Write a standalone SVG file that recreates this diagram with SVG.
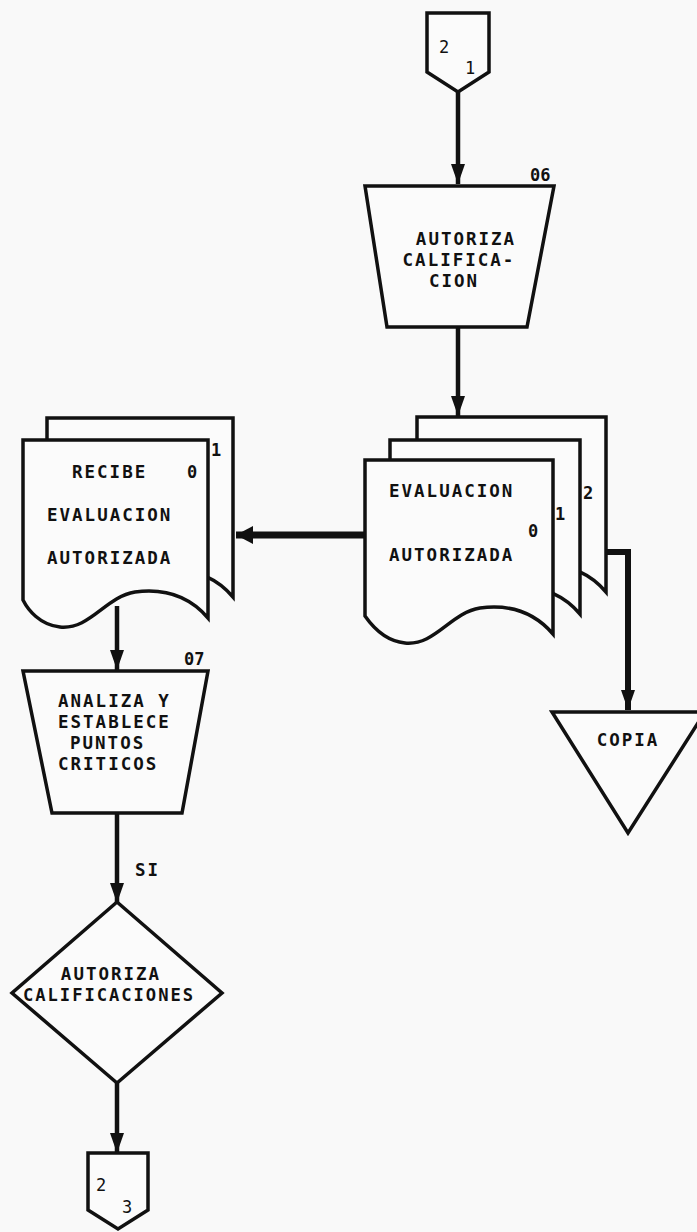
<svg xmlns="http://www.w3.org/2000/svg" width="697" height="1232" viewBox="0 0 697 1232">
<style>
.bg{fill:#f9f9f9}
.shape{fill:#fbfbfb;stroke:#111;stroke-width:3.5;stroke-linejoin:miter}
.conn{fill:none;stroke:#111;stroke-width:4.5}
.t{font-family:"DejaVu Sans Mono","Liberation Mono",monospace;font-weight:bold;font-size:17.5px;letter-spacing:2px;fill:#111}
.n{font-family:"DejaVu Sans Mono","Liberation Mono",monospace;font-weight:bold;font-size:17px;fill:#111}
.c{font-family:"DejaVu Sans Mono","Liberation Mono",monospace;font-size:17px;fill:#111}
.mid{text-anchor:middle}
</style>
<defs>
<marker id="ah" markerUnits="userSpaceOnUse" markerWidth="22" markerHeight="16" refX="20" refY="7" orient="auto">
<path d="M0,0 L20,7 L0,14 Z" fill="#111"/>
</marker>
<marker id="ahb" markerUnits="userSpaceOnUse" markerWidth="20" markerHeight="20" refX="17" refY="9" orient="auto">
<path d="M0,0 L17,9 L0,18 Z" fill="#111"/>
</marker>
</defs>
<rect class="bg" x="0" y="0" width="697" height="1232"/>

<g id="connectors">
<line class="conn" x1="458" y1="92" x2="458" y2="184" marker-end="url(#ah)"/>
<line class="conn" x1="458" y1="327" x2="458" y2="416" marker-end="url(#ah)"/>
<line class="conn" x1="365" y1="535" x2="236" y2="535" style="stroke-width:7" marker-end="url(#ahb)"/>
<polyline class="conn" points="604,552 628,552 628,710" style="stroke-width:6" marker-end="url(#ah)"/>
<line class="conn" x1="117" y1="606" x2="117" y2="670" marker-end="url(#ah)"/>
<line class="conn" x1="117" y1="813" x2="117" y2="903" marker-end="url(#ah)"/>
<text class="t" x="135" y="876">SI</text>
<line class="conn" x1="117" y1="1083" x2="117" y2="1153" marker-end="url(#ah)"/>
</g>

<g id="conn-top">
<path class="shape" d="M427,13 H489 V72 L458,92 L427,72 Z"/>
<text class="c" x="439" y="53">2</text>
<text class="c" x="465" y="74">1</text>
</g>

<g id="autoriza-calificacion">
<path class="shape" d="M365,186 H554 L527,327 H387 Z"/>
<text class="n" x="530" y="181">06</text>
<text class="t mid" x="466" y="245">AUTORIZA</text>
<text class="t mid" x="459" y="266">CALIFICA-</text>
<text class="t mid" x="454" y="287">CION</text>
</g>

<g id="evaluacion-autorizada">
<path class="shape" d="M417,417 H606 V592 C588,571 563,562 533,566 C503,571 488,604 458,601 C438,599 424,584 417,574 Z"/>
<path class="shape" d="M390,440 H580 V614 C562,593 537,584 507,588 C477,593 462,626 432,623 C412,621 398,606 390,596 Z"/>
<path class="shape" d="M365,460 H553 V634 C535,613 510,604 480,608 C450,613 435,646 405,643 C385,641 372,626 365,616 Z"/>
<text class="n" x="583" y="499">2</text>
<text class="n" x="555" y="520">1</text>
<text class="n" x="528" y="537">0</text>
<text class="t" x="389" y="497">EVALUACION</text>
<text class="t" x="389" y="561">AUTORIZADA</text>
</g>

<g id="recibe-evaluacion">
<path class="shape" d="M47,418 H233 V597 C215,576 190,567 160,571 C130,576 115,609 85,606 C65,604 53,589 47,579 Z"/>
<path class="shape" d="M23,440 H208 V618 C190,597 165,588 135,592 C105,597 90,630 60,627 C40,625 28,610 23,600 Z"/>
<text class="n" x="211" y="456">1</text>
<text class="n" x="187" y="478">0</text>
<text class="t" x="72" y="478">RECIBE</text>
<text class="t" x="47" y="521">EVALUACION</text>
<text class="t" x="47" y="564">AUTORIZADA</text>
</g>

<g id="analiza-puntos">
<path class="shape" d="M23,671 H208 L182,813 H52 Z"/>
<text class="n" x="184" y="665">07</text>
<text class="t" x="58" y="707">ANALIZA Y</text>
<text class="t" x="58" y="728">ESTABLECE</text>
<text class="t" x="70" y="749">PUNTOS</text>
<text class="t" x="58" y="770">CRITICOS</text>
</g>

<g id="copia">
<path class="shape" d="M552,712 H705 L628,833 Z"/>
<text class="t mid" x="628" y="746">COPIA</text>
</g>

<g id="autoriza-calificaciones">
<path class="shape" d="M117,902 L222,993 L117,1083 L12,993 Z"/>
<text class="t mid" x="111" y="980">AUTORIZA</text>
<text class="t mid" x="109" y="1001" textLength="172" lengthAdjust="spacingAndGlyphs">CALIFICACIONES</text>
</g>

<g id="conn-bottom">
<path class="shape" d="M88,1153 H148 V1210 L118,1229 L88,1210 Z"/>
<text class="c" x="96" y="1191">2</text>
<text class="c" x="122" y="1213">3</text>
</g>
</svg>
